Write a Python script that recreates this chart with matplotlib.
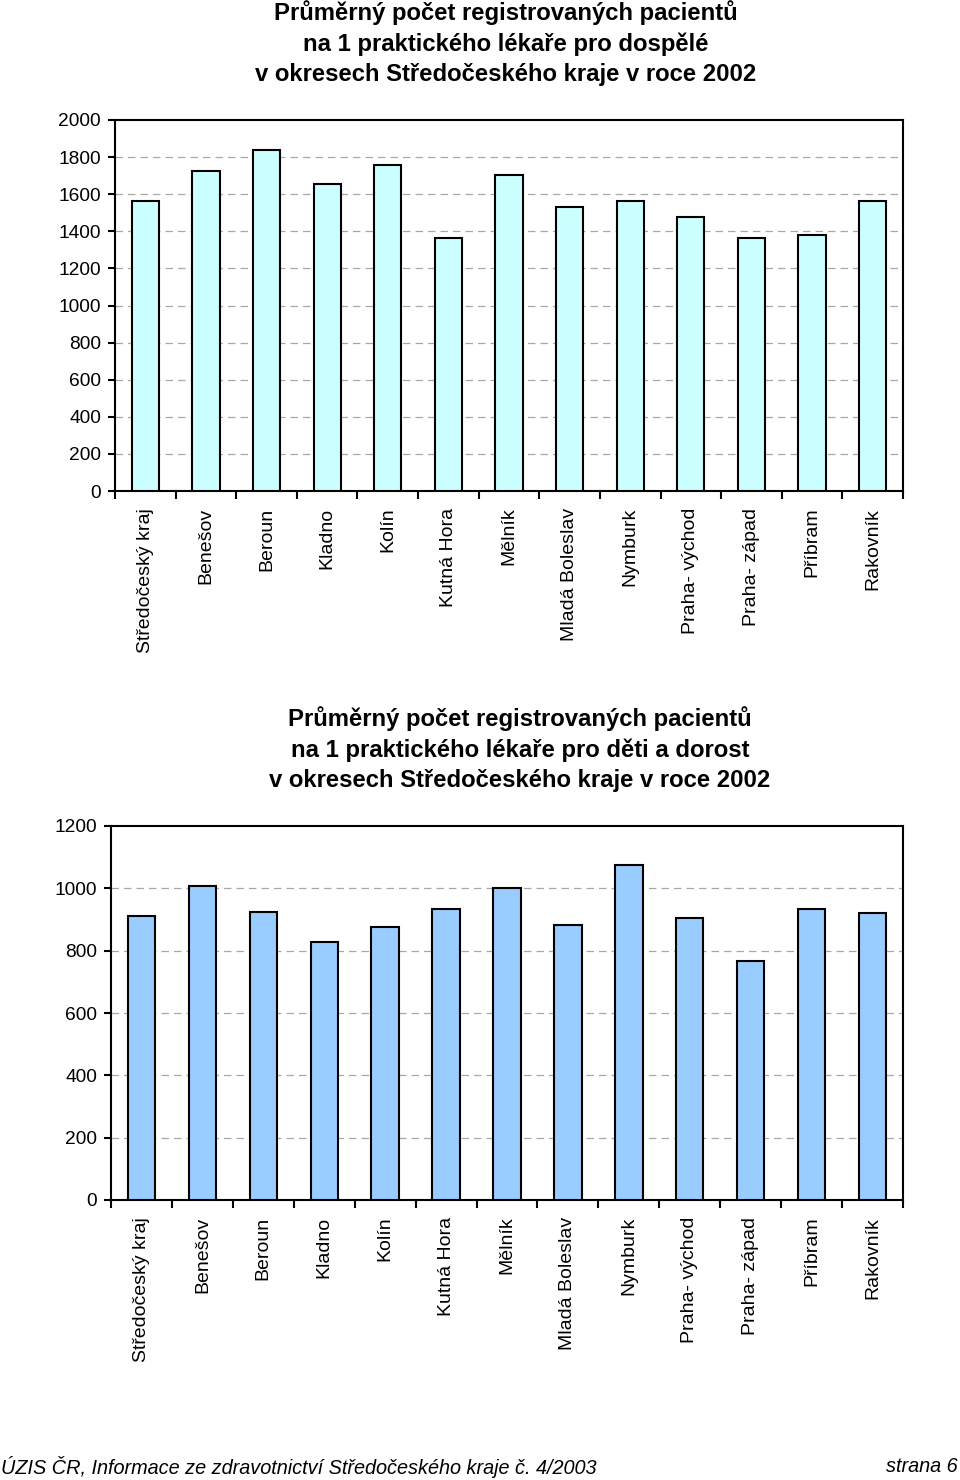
import matplotlib
matplotlib.use('Agg')
import matplotlib.pyplot as plt
import numpy as np

plt.rcParams['font.family'] = ['Liberation Sans', 'DejaVu Sans']

okresy = ['Středočeský kraj', 'Benešov', 'Beroun', 'Kladno', 'Kolín', 'Kutná Hora',
          'Mělník', 'Mladá Boleslav', 'Nymburk', 'Praha- východ', 'Praha- západ',
          'Příbram', 'Rakovník']
dospeli = [1566, 1726, 1839, 1654, 1759, 1365, 1701, 1533, 1566, 1476, 1365, 1380, 1566]
deti = [911, 1007, 925, 829, 877, 934, 1002, 882, 1074, 905, 767, 934, 921]

title_top = ['Průměrný počet registrovaných pacientů',
             'na 1 praktického lékaře pro dospělé',
             'v okresech Středočeského kraje v roce 2002']
title_bot = ['Průměrný počet registrovaných pacientů',
             'na 1 praktického lékaře pro děti a dorost',
             'v okresech Středočeského kraje v roce 2002']

W, H = 960, 1480
fig = plt.figure(figsize=(W / 100, H / 100), dpi=100)


def bar_chart(rect, values, color, ymax, step, grid_max):
    ax = fig.add_axes(rect)
    x = np.arange(len(okresy))
    ax.bar(x, values, width=0.45, color=color, edgecolor='black', linewidth=1.5, zorder=3)
    ax.set_xlim(-0.5, len(okresy) - 0.5)
    ax.set_ylim(0, ymax)
    ax.set_yticks(np.arange(0, ymax + 1, step))
    for g in np.arange(step, grid_max + 1, step):
        ax.axhline(g, color='#a8a8a8', linestyle=(0, (6, 4)), linewidth=0.9, zorder=1)
    ax.set_xticks(x)
    ax.set_xticklabels(okresy, rotation=90, fontsize=14, va='top')
    ax.tick_params(axis='x', which='major', length=0, pad=12)
    ax.set_xticks(np.arange(-0.5, len(okresy)), minor=True)
    ax.tick_params(axis='x', which='minor', length=6, width=1.5, direction='out')
    ax.tick_params(axis='y', length=5, width=1.5, direction='out', labelsize=13.8, pad=5)
    for s in ax.spines.values():
        s.set_linewidth(1.5)
    return ax


bar_chart([115 / W, 1 - 491 / H, 788 / W, 371 / H], dospeli, '#CCFFFF', 2000, 200, 1800)
bar_chart([111 / W, 1 - 1200 / H, 792 / W, 374 / H], deti, '#99CCFF', 1200, 200, 1000)

for i, line in enumerate(title_top):
    fig.text(506 / W, 1 - (13 + 31 * i) / H, line, ha='center', va='center',
             fontsize=17.2, fontweight='bold')
for i, line in enumerate(title_bot):
    fig.text(520 / W, 1 - (719 + 31 * i) / H, line, ha='center', va='center',
             fontsize=17.2, fontweight='bold')

foot_font = ['Liberation Sans Narrow', 'Liberation Sans', 'DejaVu Sans']
fig.text(1 / W, 1 - 1467 / H, 'ÚZIS ČR, Informace ze zdravotnictví Středočeského kraje č. 4/2003',
         ha='left', va='center', fontsize=14.3, style='italic', family=foot_font)
fig.text(958 / W, 1 - 1467 / H, 'strana 6', ha='right', va='center', fontsize=14.3,
         style='italic', family=foot_font)

fig.savefig('out.png', dpi=100)
